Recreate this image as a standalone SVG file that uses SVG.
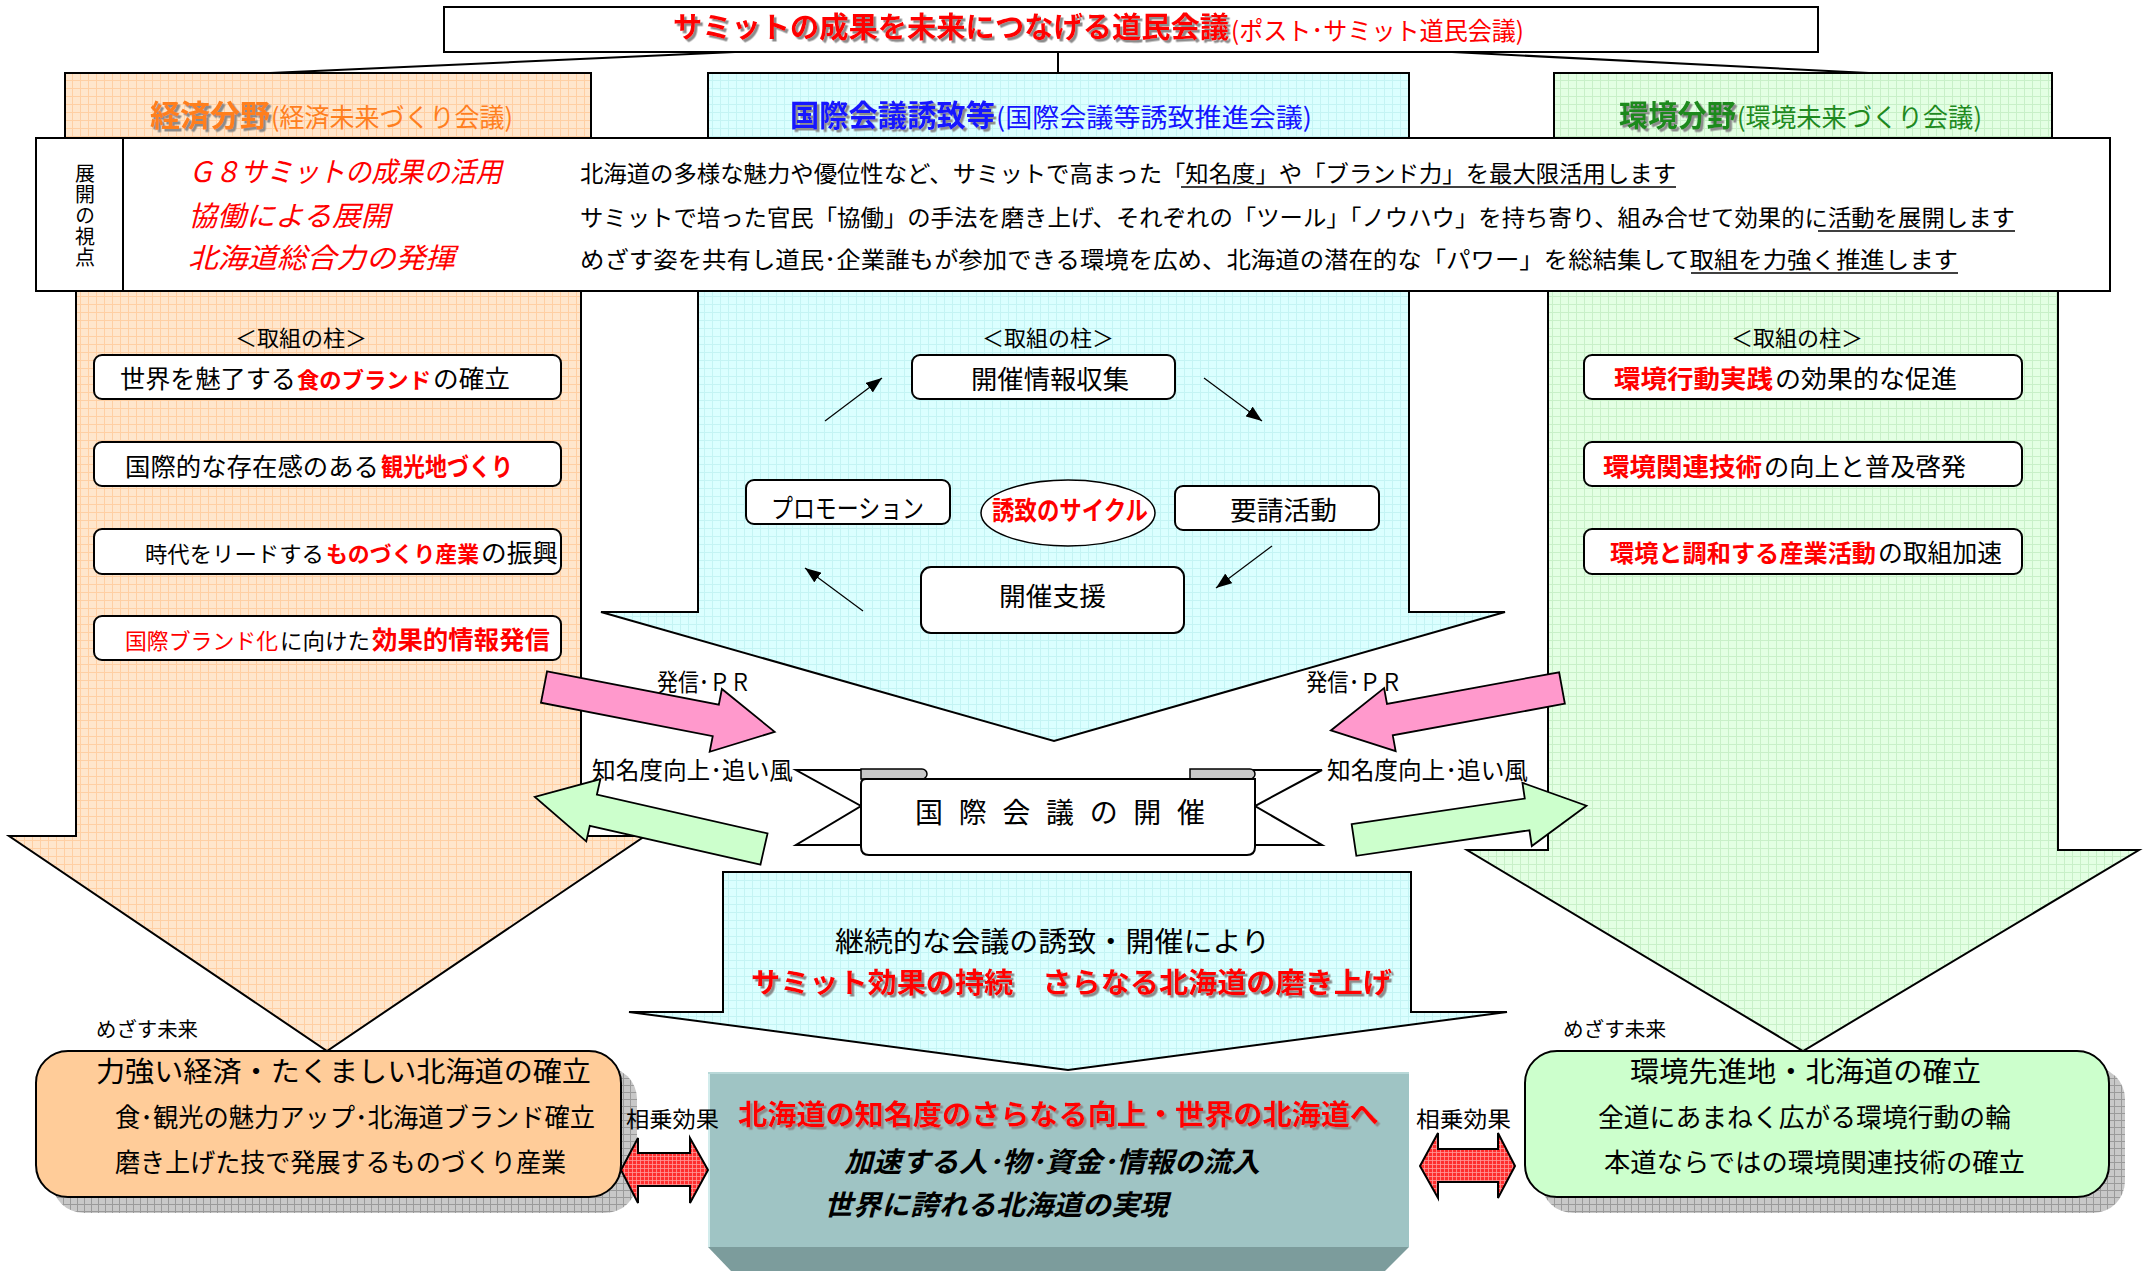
<svg xmlns="http://www.w3.org/2000/svg" width="2145" height="1271" viewBox="0 0 2145 1271">
<defs>
<style>
text{font-family:"Noto Sans CJK JP","Noto Sans",sans-serif;fill:#000;}
.bx{fill:#fff;stroke:#000;stroke-width:2;}
.ln{stroke:#000;stroke-width:2;fill:none;}
.red{fill:#FF0000;}
.b{font-weight:bold;}
.it{font-style:italic;}
.cyc{stroke:#000;stroke-width:1.2;fill:none;marker-end:url(#ah);}
.ar{stroke:#000;stroke-width:1.8;}
.pl{font-size:25px;}
.ps{font-size:22px;}
</style>
<filter id="sh" x="-5%" y="-30%" width="110%" height="160%"><feDropShadow dx="2.5" dy="2.5" stdDeviation="0.6" flood-color="#8c8c8c" flood-opacity="1"/></filter>
<pattern id="pOr" width="8" height="8" patternUnits="userSpaceOnUse"><rect width="8" height="8" fill="#FFE6CC"/><path d="M0,0.5H8M0.5,0V8" stroke="#FFCFA3" stroke-width="1"/></pattern>
<pattern id="pCy" width="8" height="8" patternUnits="userSpaceOnUse"><rect width="8" height="8" fill="#DBFFFF"/><path d="M0,0.5H8M0.5,0V8" stroke="#C4F4F4" stroke-width="1"/></pattern>
<pattern id="pGr" width="8" height="8" patternUnits="userSpaceOnUse"><rect width="8" height="8" fill="#E3FFE3"/><path d="M0,0.5H8M0.5,0V8" stroke="#C8F0C8" stroke-width="1"/></pattern>
<pattern id="pSh" width="7" height="7" patternUnits="userSpaceOnUse"><rect width="7" height="7" fill="#C8C8C8"/><path d="M0,0.5H7M0.5,0V7" stroke="#9A9A9A" stroke-width="1"/></pattern>
<pattern id="pRd" width="4" height="4" patternUnits="userSpaceOnUse"><rect width="4" height="4" fill="#FF2E2E"/><path d="M0,0.5H4M0.5,0V4" stroke="#FF9A9A" stroke-width="0.8"/></pattern>
<marker id="ah" markerWidth="16" markerHeight="12" refX="16" refY="6" orient="auto" markerUnits="userSpaceOnUse"><path d="M0,0 L16,6 L0,12 Z" fill="#000"/></marker>
<path id="bigArrow" d="M0,-16 L175,-16 L175,-32 L235,0 L175,32 L175,16 L0,16 Z"/>
</defs>

<!-- column arrows -->
<g id="col-econ">
<polygon points="76,200 581,200 581,836 645,836 327,1051 9,836 76,836" fill="url(#pOr)" stroke="#000" stroke-width="2"/>
<rect x="65" y="73" width="526" height="65" fill="url(#pOr)" stroke="#000" stroke-width="2"/>
<text x="150" y="126" font-size="30" class="b" style="fill:#FF7F1F" filter="url(#sh)" textLength="120" lengthAdjust="spacingAndGlyphs">経済分野</text>
<text x="271" y="127" font-size="26" style="fill:#FF7F1F" textLength="242" lengthAdjust="spacingAndGlyphs">(経済未来づくり会議)</text>
</g>
<g id="col-intl">
<polygon points="698,200 1409,200 1409,612 1505,612 1054,741 601,612 698,612" fill="url(#pCy)" stroke="#000" stroke-width="2"/>
<rect x="708" y="73" width="701" height="65" fill="url(#pCy)" stroke="#000" stroke-width="2"/>
<text x="790" y="126" font-size="30" class="b" style="fill:#1414FF" filter="url(#sh)" textLength="205" lengthAdjust="spacingAndGlyphs">国際会議誘致等</text>
<text x="996" y="127" font-size="26" style="fill:#1414FF" textLength="316" lengthAdjust="spacingAndGlyphs">(国際会議等誘致推進会議)</text>
</g>
<g id="col-env">
<polygon points="1548,200 2058,200 2058,850 2139,850 1803,1051 1467,850 1548,850" fill="url(#pGr)" stroke="#000" stroke-width="2"/>
<rect x="1554" y="73" width="498" height="65" fill="url(#pGr)" stroke="#000" stroke-width="2"/>
<text x="1619" y="126" font-size="30" class="b" style="fill:#1F8A1F" filter="url(#sh)" textLength="117" lengthAdjust="spacingAndGlyphs">環境分野</text>
<text x="1737" y="127" font-size="26" style="fill:#1F8A1F" textLength="245" lengthAdjust="spacingAndGlyphs">(環境未来づくり会議)</text>
</g>

<!-- connectors -->
<g id="connectors">
<line class="ln" x1="735" y1="52" x2="270" y2="73"/>
<line class="ln" x1="1058" y1="52" x2="1058" y2="73"/>
<line class="ln" x1="1452" y1="52" x2="1869" y2="73"/>
<line class="cyc" x1="825" y1="421" x2="882" y2="378"/>
<line class="cyc" x1="1204" y1="378" x2="1262" y2="421"/>
<line class="cyc" x1="1272" y1="546" x2="1216" y2="588"/>
<line class="cyc" x1="863" y1="611" x2="805" y2="568"/>
</g>

<!-- title -->
<g id="title">
<rect class="bx" x="444" y="7" width="1374" height="45"/>
<text x="673" y="38" font-size="29" class="b red" filter="url(#sh)" textLength="556" lengthAdjust="spacingAndGlyphs">サミットの成果を未来につなげる道民会議</text>
<text x="1231" y="40" font-size="25" class="red" textLength="293" lengthAdjust="spacingAndGlyphs">(ポスト･サミット道民会議)</text>
</g>

<!-- viewpoint box -->
<g id="viewpoint">
<rect class="bx" x="36" y="138" width="2074" height="153"/>
<line class="ln" x1="123" y1="138" x2="123" y2="291"/>
<text x="85" y="163" font-size="20" writing-mode="vertical-rl" textLength="104" lengthAdjust="spacingAndGlyphs">展開の視点</text>
<text x="188" y="182" font-size="28" class="red it" textLength="314" lengthAdjust="spacingAndGlyphs">Ｇ８サミットの成果の活用</text>
<text x="188" y="226" font-size="28" class="red it" textLength="202" lengthAdjust="spacingAndGlyphs">協働による展開</text>
<text x="188" y="268" font-size="28" class="red it" textLength="267" lengthAdjust="spacingAndGlyphs">北海道総合力の発揮</text>
<text x="580" y="182" font-size="23" textLength="1096" lengthAdjust="spacingAndGlyphs">北海道の多様な魅力や優位性など、サミットで高まった「知名度」や「ブランド力」を最大限活用します</text>
<text x="580" y="226" font-size="23" textLength="1435" lengthAdjust="spacingAndGlyphs">サミットで培った官民「協働」の手法を磨き上げ、それぞれの「ツール」「ノウハウ」を持ち寄り、組み合せて効果的に活動を展開します</text>
<text x="580" y="268" font-size="23" textLength="1378" lengthAdjust="spacingAndGlyphs">めざす姿を共有し道民･企業誰もが参加できる環境を広め、北海道の潜在的な「パワー」を総結集して取組を力強く推進します</text>
<line x1="1181" y1="187" x2="1676" y2="187" stroke="#000" stroke-width="1.6"/>
<line x1="1818" y1="231" x2="2015" y2="231" stroke="#000" stroke-width="1.6"/>
<line x1="1691" y1="273" x2="1958" y2="273" stroke="#000" stroke-width="1.6"/>
</g>

<!-- pillars left -->
<g id="pillars-econ">
<text x="301" y="346" font-size="22" text-anchor="middle">＜取組の柱＞</text>
<rect class="bx" x="94" y="355" width="467" height="44" rx="8"/>
<text class="pl" x="120" y="388" textLength="176" lengthAdjust="spacingAndGlyphs">世界を魅了する</text>
<text class="ps red b" x="297" y="388" textLength="134" lengthAdjust="spacingAndGlyphs">食のブランド</text>
<text class="pl" x="433" y="388" textLength="77" lengthAdjust="spacingAndGlyphs">の確立</text>
<rect class="bx" x="94" y="442" width="467" height="44" rx="8"/>
<text class="pl" x="125" y="476" textLength="254" lengthAdjust="spacingAndGlyphs">国際的な存在感のある</text>
<text class="pl red b" x="381" y="476" textLength="132" lengthAdjust="spacingAndGlyphs">観光地づくり</text>
<rect class="bx" x="94" y="529" width="467" height="45" rx="8"/>
<text class="ps" x="145" y="562" textLength="179" lengthAdjust="spacingAndGlyphs">時代をリードする</text>
<text class="ps red b" x="326" y="562" textLength="153" lengthAdjust="spacingAndGlyphs">ものづくり産業</text>
<text class="pl" x="481" y="562" textLength="77" lengthAdjust="spacingAndGlyphs">の振興</text>
<rect class="bx" x="94" y="616" width="467" height="44" rx="8"/>
<text class="ps red" x="125" y="649" textLength="153" lengthAdjust="spacingAndGlyphs">国際ブランド化</text>
<text class="ps" x="280" y="649" textLength="90" lengthAdjust="spacingAndGlyphs">に向けた</text>
<text class="pl red b" x="372" y="649" textLength="178" lengthAdjust="spacingAndGlyphs">効果的情報発信</text>
</g>

<!-- pillars right -->
<g id="pillars-env">
<text x="1797" y="346" font-size="22" text-anchor="middle">＜取組の柱＞</text>
<rect class="bx" x="1584" y="355" width="438" height="44" rx="8"/>
<text class="pl red b" x="1614" y="388" textLength="159" lengthAdjust="spacingAndGlyphs">環境行動実践</text>
<text class="pl" x="1775" y="388" textLength="182" lengthAdjust="spacingAndGlyphs">の効果的な促進</text>
<rect class="bx" x="1584" y="442" width="438" height="44" rx="8"/>
<text class="pl red b" x="1603" y="476" textLength="159" lengthAdjust="spacingAndGlyphs">環境関連技術</text>
<text class="pl" x="1764" y="476" textLength="202" lengthAdjust="spacingAndGlyphs">の向上と普及啓発</text>
<rect class="bx" x="1584" y="529" width="438" height="45" rx="8"/>
<text class="red b" font-size="24" x="1610" y="562" textLength="266" lengthAdjust="spacingAndGlyphs">環境と調和する産業活動</text>
<text class="pl" x="1878" y="562" textLength="124" lengthAdjust="spacingAndGlyphs">の取組加速</text>
</g>

<!-- cycle -->
<g id="cycle">
<text x="1048" y="346" font-size="22" text-anchor="middle">＜取組の柱＞</text>
<g id="node-info"><rect class="bx" x="912" y="355" width="263" height="44" rx="8"/>
<text x="971" y="389" font-size="26" textLength="158" lengthAdjust="spacingAndGlyphs">開催情報収集</text></g>
<g id="node-promo"><rect class="bx" x="746" y="480" width="204" height="44" rx="8"/>
<text x="771" y="518" font-size="26" textLength="153" lengthAdjust="spacingAndGlyphs">プロモーション</text></g>
<g id="node-cycle"><ellipse cx="1068" cy="513" rx="87" ry="33" fill="#fff" stroke="#000" stroke-width="1.5"/>
<text x="992" y="520" font-size="26" class="red b" textLength="156" lengthAdjust="spacingAndGlyphs">誘致のサイクル</text></g>
<g id="node-req"><rect class="bx" x="1175" y="486" width="204" height="44" rx="8"/>
<text x="1230" y="520" font-size="26" textLength="107" lengthAdjust="spacingAndGlyphs">要請活動</text></g>
<g id="node-sup"><rect class="bx" x="921" y="567" width="263" height="66" rx="10"/>
<text x="999" y="606" font-size="26" textLength="107" lengthAdjust="spacingAndGlyphs">開催支援</text></g>
</g>

<!-- side arrows -->
<g id="side-arrows">
<use href="#bigArrow" transform="translate(544,687) rotate(11)" fill="#FF99CC" class="ar"/>
<use href="#bigArrow" transform="translate(1562,688) rotate(169.6)" fill="#FF99CC" class="ar"/>
<use href="#bigArrow" transform="translate(764,849) rotate(-167.2)" fill="#CCFFCC" class="ar"/>
<use href="#bigArrow" transform="translate(1354,840) rotate(-8.4)" fill="#CCFFCC" class="ar"/>
<text x="657" y="691" font-size="24" textLength="94" lengthAdjust="spacingAndGlyphs">発信･ＰＲ</text>
<text x="1306" y="691" font-size="24" textLength="96" lengthAdjust="spacingAndGlyphs">発信･ＰＲ</text>
<text x="592" y="779" font-size="24" textLength="201" lengthAdjust="spacingAndGlyphs">知名度向上･追い風</text>
<text x="1327" y="779" font-size="24" textLength="201" lengthAdjust="spacingAndGlyphs">知名度向上･追い風</text>
</g>

<!-- ribbon -->
<g id="ribbon">
<path d="M796,770 L900,770 L900,845 L796,845 L861,806 Z" fill="#fff" stroke="#000" stroke-width="2"/>
<path d="M1322,770 L1220,770 L1220,845 L1322,845 L1255,806 Z" fill="#fff" stroke="#000" stroke-width="2"/>
<path d="M861,769 L922,769 A5,5 0 0 1 922,779 L861,779 Z" fill="#C8C8C8" stroke="#000" stroke-width="1.5"/>
<path d="M1190,769 L1250,769 A5,5 0 0 1 1250,779 L1190,779 Z" fill="#C8C8C8" stroke="#000" stroke-width="1.5"/>
<path d="M866,779 L1255,779 L1255,847 Q1255,855 1247,855 L869,855 Q861,855 861,847 L861,784 Q861,779 866,779 Z" fill="#fff" stroke="#000" stroke-width="2"/>
<text x="915" y="823" font-size="28" textLength="290" lengthAdjust="spacing">国際会議の開催</text>
</g>

<!-- middle callout -->
<g id="callout">
<polygon points="723,872 1411,872 1411,1012 1507,1012 1068,1070 629,1012 723,1012" fill="url(#pCy)" stroke="#000" stroke-width="2"/>
<text x="835" y="952" font-size="28" textLength="435" lengthAdjust="spacingAndGlyphs">継続的な会議の誘致・開催により</text>
<text x="751" y="993" font-size="28" class="red b" filter="url(#sh)" textLength="641" lengthAdjust="spacingAndGlyphs">サミット効果の持続　さらなる北海道の磨き上げ</text>
</g>

<!-- bottom left -->
<g id="goal-econ">
<rect x="52" y="1067" width="585" height="146" rx="32" fill="url(#pSh)"/>
<rect x="36" y="1051" width="585" height="146" rx="32" fill="#FFCC99" stroke="#000" stroke-width="2"/>
<text x="96" y="1037" font-size="20" textLength="102" lengthAdjust="spacingAndGlyphs">めざす未来</text>
<text x="96" y="1082" font-size="28" textLength="495" lengthAdjust="spacingAndGlyphs">力強い経済・たくましい北海道の確立</text>
<text x="115" y="1127" font-size="26" textLength="480" lengthAdjust="spacingAndGlyphs">食･観光の魅力アップ･北海道ブランド確立</text>
<text x="115" y="1172" font-size="26" textLength="451" lengthAdjust="spacingAndGlyphs">磨き上げた技で発展するものづくり産業</text>
</g>

<!-- bottom right -->
<g id="goal-env">
<rect x="1541" y="1067" width="584" height="146" rx="32" fill="url(#pSh)"/>
<rect x="1525" y="1051" width="584" height="146" rx="32" fill="#CCFFCC" stroke="#000" stroke-width="2"/>
<text x="1563" y="1037" font-size="20" textLength="103" lengthAdjust="spacingAndGlyphs">めざす未来</text>
<text x="1630" y="1082" font-size="28" textLength="351" lengthAdjust="spacingAndGlyphs">環境先進地・北海道の確立</text>
<text x="1598" y="1127" font-size="26" textLength="413" lengthAdjust="spacingAndGlyphs">全道にあまねく広がる環境行動の輪</text>
<text x="1604" y="1172" font-size="26" textLength="421" lengthAdjust="spacingAndGlyphs">本道ならではの環境関連技術の確立</text>
</g>

<!-- center goal -->
<g id="goal-center">
<rect x="708" y="1072" width="701" height="175" fill="#9FC4C4"/>
<line x1="709" y1="1072" x2="709" y2="1247" stroke="#D2ECEC" stroke-width="2"/>
<line x1="708" y1="1073" x2="1409" y2="1073" stroke="#B8D8D8" stroke-width="2"/>
<polygon points="708,1247 1409,1247 1385,1271 731,1271" fill="#7C9C9C"/>
<text x="738" y="1125" font-size="28" class="red b" filter="url(#sh)" textLength="641" lengthAdjust="spacingAndGlyphs">北海道の知名度のさらなる向上・世界の北海道へ</text>
<text x="844" y="1172" font-size="28" class="b it" textLength="416" lengthAdjust="spacingAndGlyphs">加速する人･物･資金･情報の流入</text>
<text x="824" y="1215" font-size="28" class="b it" textLength="344" lengthAdjust="spacingAndGlyphs">世界に誇れる北海道の実現</text>
</g>

<!-- synergy arrows -->
<g id="synergy">
<polygon points="621,1170 638,1138 638,1153 690,1153 690,1138 708,1170 690,1203 690,1186 638,1186 638,1203" fill="url(#pRd)" stroke="#000" stroke-width="2"/>
<polygon points="1420,1166 1438,1133 1438,1149 1498,1149 1498,1133 1515,1166 1498,1198 1498,1182 1438,1182 1438,1198" fill="url(#pRd)" stroke="#000" stroke-width="2"/>
<text x="626" y="1127" font-size="22" textLength="93" lengthAdjust="spacingAndGlyphs">相乗効果</text>
<text x="1416" y="1127" font-size="22" textLength="95" lengthAdjust="spacingAndGlyphs">相乗効果</text>
</g>
</svg>
